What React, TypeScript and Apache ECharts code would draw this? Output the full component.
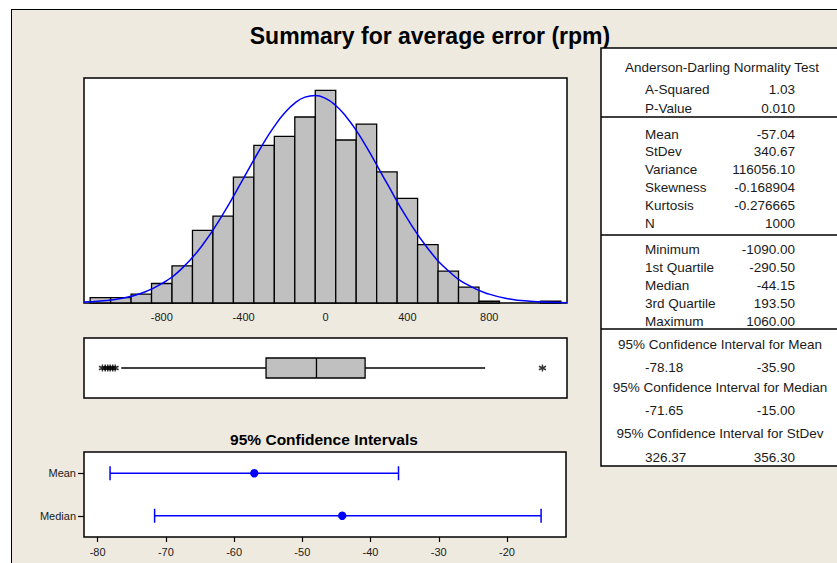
import React, { useEffect, useRef } from 'react';
import * as echarts from 'echarts';

// Histogram bins (width 100) and counts
const binCenters = [-1100, -1000, -900, -800, -700, -600, -500, -400, -300, -200, -100, 0, 100, 200, 300, 400, 500, 600, 700, 800, 900, 1000, 1100];
const binCounts = [3, 3, 5, 11, 21, 41, 49, 71, 89, 94, 105, 120, 92, 101, 74, 59, 33, 18, 9, 1, 0, 0, 1];

// Fitted normal curve
const curveX = [-1180, -1100, -1000, -900, -800, -700, -600, -500, -400, -300, -250, -200, -150, -100, -50, 0, 50, 100, 150, 200, 250, 300, 400, 500, 600, 700, 800, 900, 1000, 1100, 1180];
const curveY = [0.5, 1.1, 2.5, 5.5, 10.9, 19.7, 32.9, 50.3, 70.5, 90.8, 99.7, 107.2, 112.8, 116.2, 117.1, 115.5, 111.5, 105.3, 97.4, 88.1, 78.0, 67.6, 47.6, 30.8, 18.2, 9.9, 5.0, 2.3, 1.0, 0.4, 0.2];

const histTicks = [-800, -400, 0, 400, 800];

// Boxplot: whisker low, Q1, median, Q3, whisker high
const boxStats = [-998, -290.5, -44.15, 193.5, 780];
const outliers = [-1090, -1076, -1064, -1052, -1040, -1028, 1060];

// 95% confidence intervals
const ciLabels = ['Mean', 'Median'];
const ciLow = [-78.18, -71.65];
const ciEst = [-57.04, -44.15];
const ciHigh = [-35.9, -15.0];
const ciTicks = [-80, -70, -60, -50, -40, -30, -20];

// Summary table
const titleText = 'Summary for average error (rpm)';
const adHeader = 'Anderson-Darling Normality Test';
const adLabels = ['A-Squared', 'P-Value'];
const adValues = ['1.03', '0.010'];
const descLabels = ['Mean', 'StDev', 'Variance', 'Skewness', 'Kurtosis', 'N'];
const descValues = ['-57.04', '340.67', '116056.10', '-0.168904', '-0.276665', '1000'];
const quartLabels = ['Minimum', '1st Quartile', 'Median', '3rd Quartile', 'Maximum'];
const quartValues = ['-1090.00', '-290.50', '-44.15', '193.50', '1060.00'];
const ciHeaders = ['95% Confidence Interval for Mean', '95% Confidence Interval for Median', '95% Confidence Interval for StDev'];
const ciTableLow = ['-78.18', '-71.65', '326.37'];
const ciTableHigh = ['-35.90', '-15.00', '356.30'];

const FONT = "'Liberation Sans', Arial, sans-serif";
const TXT = '#1a1a1a';

export default function App() {
  const ref = useRef<HTMLDivElement>(null);
  useEffect(() => {
    const chart = echarts.init(ref.current!, null, { renderer: 'svg' });
    const binWidth = 100;
    const histData = binCenters
      .map((c, i) => [c - binWidth / 2, c + binWidth / 2, binCounts[i]])
      .filter((d) => d[2] > 0);
    const curveData = curveX.map((x, i) => [x, curveY[i]]);
    const ciData = ciLabels.map((_, i) => [i, ciLow[i], ciEst[i], ciHigh[i]]);

    const txt = (text: string, x: number, y: number, align: string, opts: any = {}) => ({
      type: 'text',
      x,
      y,
      silent: true,
      style: {
        text,
        align,
        verticalAlign: 'middle',
        fontFamily: FONT,
        fontSize: 13.5,
        fill: TXT,
        ...opts,
      },
    });

    const LX = 645;
    const RX = 795;
    const CX = 720;
    const tableEls: any[] = [
      {
        type: 'rect',
        shape: { x: 601, y: 48, width: 260, height: 418 },
        style: { fill: '#fff', stroke: '#000', lineWidth: 1.5 },
      },
      ...[117, 235, 329].map((y) => ({
        type: 'line',
        shape: { x1: 601, y1: y, x2: 845, y2: y },
        style: { stroke: '#000', lineWidth: 1.5 },
      })),
      txt(adHeader, 722, 67, 'center'),
    ];
    const adY = [89.5, 108.5];
    adLabels.forEach((l, i) => {
      tableEls.push(txt(l, LX, adY[i], 'left'));
      tableEls.push(txt(adValues[i], RX, adY[i], 'right'));
    });
    descLabels.forEach((l, i) => {
      const y = 134 + i * 17.8;
      tableEls.push(txt(l, LX, y, 'left'));
      tableEls.push(txt(descValues[i], RX, y, 'right'));
    });
    quartLabels.forEach((l, i) => {
      const y = 249 + i * 18;
      tableEls.push(txt(l, LX, y, 'left'));
      tableEls.push(txt(quartValues[i], RX, y, 'right'));
    });
    const ciHY = [344, 387, 433];
    const ciVY = [367, 410, 457];
    ciHeaders.forEach((h, i) => {
      tableEls.push(txt(h, CX, ciHY[i], 'center'));
      tableEls.push(txt(ciTableLow[i], LX, ciVY[i], 'left'));
      tableEls.push(txt(ciTableHigh[i], RX, ciVY[i], 'right'));
    });

    const axisLabelStyle = { fontFamily: FONT, fontSize: 11, color: TXT };

    const option: any = {
      animation: false,
      backgroundColor: 'transparent',
      grid: [
        { left: 84, top: 78, width: 483, height: 225, show: true, backgroundColor: '#fff', borderColor: '#000', borderWidth: 1.5 },
        { left: 84, top: 338, width: 483, height: 60, show: true, backgroundColor: '#fff', borderColor: '#000', borderWidth: 1.5 },
        { left: 84, top: 452, width: 482, height: 85, show: true, backgroundColor: '#fff', borderColor: '#000', borderWidth: 1.5 },
      ],
      xAxis: [
        {
          gridIndex: 0, type: 'value', min: -1180, max: 1180,
          axisLine: { show: false }, axisTick: { show: false }, splitLine: { show: false },
          axisLabel: { ...axisLabelStyle, customValues: histTicks, margin: 8 },
        },
        { gridIndex: 1, type: 'value', min: -1180, max: 1180, show: false },
        {
          gridIndex: 2, type: 'value', min: -82, max: -11.35,
          axisLine: { show: false }, splitLine: { show: false },
          axisTick: { show: true, customValues: ciTicks, length: 5, lineStyle: { color: '#000', width: 1.2 } },
          axisLabel: { ...axisLabelStyle, customValues: ciTicks, margin: 9 },
        },
      ],
      yAxis: [
        { gridIndex: 0, type: 'value', min: 0, max: 127, show: false },
        { gridIndex: 1, type: 'value', min: 0, max: 1, show: false },
        {
          gridIndex: 2, type: 'category', data: ciLabels, inverse: true,
          axisLine: { show: false }, splitLine: { show: false },
          axisTick: { show: true, alignWithLabel: true, length: 6, lineStyle: { color: '#000', width: 1.2 } },
          axisLabel: { ...axisLabelStyle, margin: 8 },
        },
      ],
      graphic: [
        {
          type: 'text', x: 430, y: 36, silent: true,
          style: { text: titleText, align: 'center', verticalAlign: 'middle', fontFamily: FONT, fontWeight: 'bold', fontSize: 23, fill: '#000' },
        },
        {
          type: 'text', x: 324, y: 439, silent: true,
          style: { text: '95% Confidence Intervals', align: 'center', verticalAlign: 'middle', fontFamily: FONT, fontWeight: 'bold', fontSize: 15.5, fill: '#000' },
        },
        ...tableEls,
      ],
      series: [
        {
          type: 'custom',
          xAxisIndex: 0,
          yAxisIndex: 0,
          data: histData,
          encode: { x: [0, 1], y: 2 },
          renderItem: (params: any, api: any) => {
            const p0 = api.coord([api.value(0), api.value(2)]);
            const p1 = api.coord([api.value(1), 0]);
            return {
              type: 'rect',
              shape: { x: p0[0], y: p0[1], width: p1[0] - p0[0], height: p1[1] - p0[1] },
              style: { fill: '#C0C0C0', stroke: '#000', lineWidth: 1.3 },
            };
          },
        },
        {
          type: 'line',
          xAxisIndex: 0,
          yAxisIndex: 0,
          data: curveData,
          smooth: true,
          showSymbol: false,
          lineStyle: { color: '#0000FF', width: 1.5 },
          z: 5,
        },
        {
          type: 'custom',
          xAxisIndex: 1,
          yAxisIndex: 1,
          data: [boxStats],
          encode: { x: [0, 1, 2, 3, 4] },
          renderItem: (params: any, api: any) => {
            const pts = [0, 1, 2, 3, 4].map((k) => api.coord([api.value(k), 0.5]));
            const y = pts[0][1];
            const h = 10;
            const st = { stroke: '#000', lineWidth: 1.3 };
            return {
              type: 'group',
              children: [
                { type: 'line', shape: { x1: pts[0][0], y1: y, x2: pts[1][0], y2: y }, style: st },
                { type: 'line', shape: { x1: pts[3][0], y1: y, x2: pts[4][0], y2: y }, style: st },
                { type: 'rect', shape: { x: pts[1][0], y: y - h, width: pts[3][0] - pts[1][0], height: 2 * h }, style: { fill: '#C0C0C0', stroke: '#000', lineWidth: 1.3 } },
                { type: 'line', shape: { x1: pts[2][0], y1: y - h, x2: pts[2][0], y2: y + h }, style: st },
              ],
            };
          },
        },
        {
          type: 'scatter',
          xAxisIndex: 1,
          yAxisIndex: 1,
          data: outliers.map((v) => [v, 0.5]),
          symbol: 'path://M5 0L5 10M0.67 2.5L9.33 7.5M0.67 7.5L9.33 2.5',
          symbolSize: 7,
          itemStyle: { color: '#000', borderColor: '#000', borderWidth: 1.4 },
        },
        {
          type: 'custom',
          xAxisIndex: 2,
          yAxisIndex: 2,
          data: ciData,
          encode: { x: [1, 2, 3], y: 0 },
          renderItem: (params: any, api: any) => {
            const c = api.value(0);
            const pl = api.coord([api.value(1), c]);
            const pe = api.coord([api.value(2), c]);
            const ph = api.coord([api.value(3), c]);
            const y = pl[1];
            const st = { stroke: '#0000FF', lineWidth: 1.5 };
            return {
              type: 'group',
              children: [
                { type: 'line', shape: { x1: pl[0], y1: y, x2: ph[0], y2: y }, style: st },
                { type: 'line', shape: { x1: pl[0], y1: y - 7, x2: pl[0], y2: y + 7 }, style: st },
                { type: 'line', shape: { x1: ph[0], y1: y - 7, x2: ph[0], y2: y + 7 }, style: st },
                { type: 'circle', shape: { cx: pe[0], cy: y, r: 4.2 }, style: { fill: '#0000FF' } },
              ],
            };
          },
        },
      ],
    };
    chart.setOption(option);
    return () => chart.dispose();
  }, []);

  return (
    <div style={{ position: 'absolute', left: 0, top: 0, width: 837, height: 563, background: '#fff', overflow: 'hidden' }}>
      <div
        style={{
          position: 'absolute', left: 11, top: 9, width: 840, height: 570,
          background: '#EEEAE0', borderTop: '1.5px solid #000', borderLeft: '1.5px solid #000',
        }}
      />
      <div ref={ref} style={{ position: 'absolute', left: 0, top: 0, width: 837, height: 563 }} />
    </div>
  );
}
